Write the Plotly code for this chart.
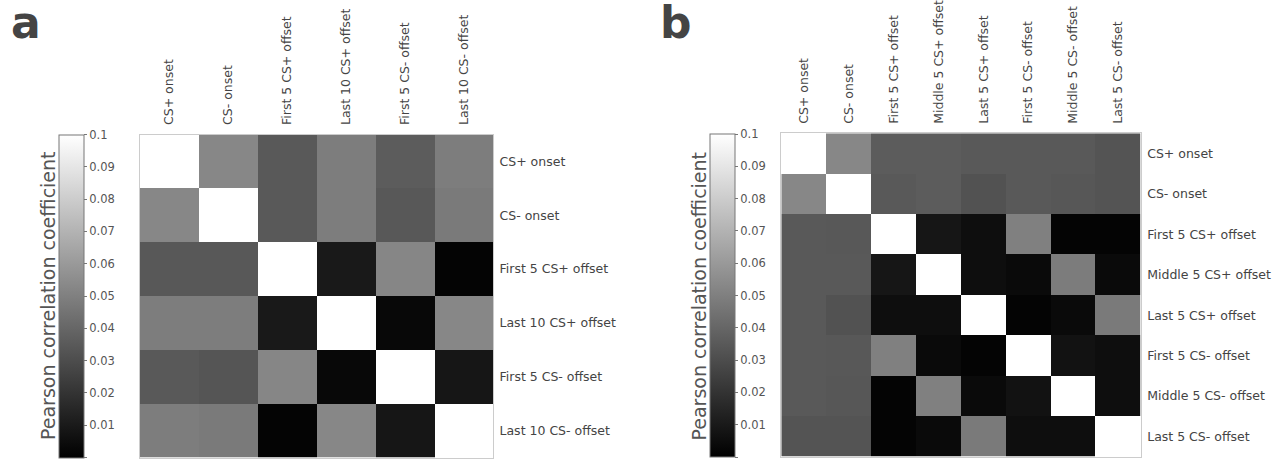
import plotly.graph_objects as go

# ---------------- data ----------------
labels_a = ["CS+ onset", "CS- onset", "First 5 CS+ offset", "Last 10 CS+ offset",
            "First 5 CS- offset", "Last 10 CS- offset"]
z_a = [
    [0.100, 0.053, 0.035, 0.049, 0.036, 0.049],
    [0.053, 0.100, 0.035, 0.049, 0.0345, 0.048],
    [0.0345, 0.0345, 0.100, 0.010, 0.0525, 0.0015],
    [0.049, 0.049, 0.010, 0.100, 0.003, 0.053],
    [0.035, 0.0335, 0.0525, 0.003, 0.100, 0.0087],
    [0.049, 0.048, 0.0015, 0.053, 0.0087, 0.100],
]

labels_b = ["CS+ onset", "CS- onset", "First 5 CS+ offset", "Middle 5 CS+ offset",
            "Last 5 CS+ offset", "First 5 CS- offset", "Middle 5 CS- offset",
            "Last 5 CS- offset"]
z_b = [
    [0.100, 0.053, 0.036, 0.036, 0.035, 0.035, 0.035, 0.033],
    [0.053, 0.100, 0.035, 0.036, 0.032, 0.035, 0.034, 0.033],
    [0.035, 0.0345, 0.100, 0.0087, 0.0055, 0.050, 0.0016, 0.0016],
    [0.035, 0.035, 0.0087, 0.100, 0.0055, 0.004, 0.0487, 0.004],
    [0.035, 0.032, 0.0055, 0.0055, 0.100, 0.0016, 0.004, 0.048],
    [0.035, 0.0345, 0.050, 0.004, 0.0016, 0.100, 0.007, 0.0055],
    [0.035, 0.034, 0.0016, 0.050, 0.004, 0.007, 0.100, 0.0055],
    [0.033, 0.033, 0.0016, 0.004, 0.048, 0.0055, 0.0055, 0.100],
]

cbar_ticks = [0, 0.01, 0.02, 0.03, 0.04, 0.05, 0.06, 0.07, 0.08, 0.09, 0.1]
cbar_ticktext = ["0", "0.01", "0.02", "0.03", "0.04", "0.05", "0.06", "0.07", "0.08", "0.09", "0.1"]
cbar_title = "Pearson correlation coefficient"

# ---------------- layout constants ----------------
W, H = 1277, 461
FONT = "DejaVu Sans"
gray_scale = [[0, "#000000"], [1, "#ffffff"]]


def px_x(p):
    return p / W


def px_y(p):
    return 1 - p / H


def cbar(x_left, top, bottom):
    return dict(
        x=px_x(x_left), xanchor="left", xpad=0,
        y=px_y(bottom), yanchor="bottom", ypad=0,
        len=(bottom - top) / H, lenmode="fraction",
        thickness=25, thicknessmode="pixels",
        outlinewidth=1, outlinecolor="#777777",
        tickmode="array", tickvals=cbar_ticks, ticktext=cbar_ticktext,
        ticks="outside", ticklen=3, tickcolor="#777777",
        tickfont=dict(family=FONT, size=11.5, color="#555555"),
    )


fig = go.Figure()

fig.add_trace(go.Heatmap(
    z=z_a, x=labels_a, y=labels_a, xaxis="x", yaxis="y",
    colorscale=gray_scale, zmin=0, zmax=0.1,
    colorbar=cbar(59, 134.5, 457.5), hoverinfo="skip",
))
fig.add_trace(go.Heatmap(
    z=z_b, x=labels_b, y=labels_b, xaxis="x2", yaxis="y2",
    colorscale=gray_scale, zmin=0, zmax=0.1,
    colorbar=cbar(710.5, 134.0, 457.0), hoverinfo="skip",
))

tickfont = dict(family=FONT, size=12.5, color="#444444")

def xax(domain, anchor):
    return dict(domain=domain, anchor=anchor, side="top", tickangle=-90,
                tickfont=tickfont, showgrid=False, zeroline=False, ticks="",
                ticklabelstandoff=6, showline=True, linecolor="#cccccc",
                mirror=True, linewidth=1, fixedrange=True, automargin=False)

def yax(domain, anchor):
    return dict(domain=domain, anchor=anchor, side="right", autorange="reversed",
                tickfont=tickfont, showgrid=False, zeroline=False, ticks="",
                ticklabelstandoff=3, showline=True, linecolor="#cccccc",
                mirror=True, linewidth=1, fixedrange=True, automargin=False)

fig.update_layout(
    width=W, height=H,
    margin=dict(l=0, r=0, t=0, b=0, autoexpand=False),
    paper_bgcolor="white", plot_bgcolor="white",
    font=dict(family=FONT, color="#444444"),
    xaxis=xax([px_x(139.5), px_x(493)], "y"),
    yaxis=yax([px_y(457.5), px_y(134.5)], "x"),
    xaxis2=xax([px_x(781.3), px_x(1140.7)], "y2"),
    yaxis2=yax([px_y(456.7), px_y(133.3)], "x2"),
    annotations=[
        dict(text=cbar_title, x=px_x(48), y=px_y(296), xref="paper", yref="paper",
             textangle=-90, showarrow=False, xanchor="center", yanchor="middle",
             font=dict(family=FONT, size=19, color="#555555")),
        dict(text=cbar_title, x=px_x(698.5), y=px_y(296), xref="paper", yref="paper",
             textangle=-90, showarrow=False, xanchor="center", yanchor="middle",
             font=dict(family=FONT, size=19, color="#555555")),
        dict(text="<b>a</b>", x=px_x(25.5), y=px_y(22), xref="paper", yref="paper",
             showarrow=False, xanchor="center", yanchor="middle",
             font=dict(family=FONT, size=44, color="#444444")),
        dict(text="<b>b</b>", x=px_x(675.5), y=px_y(22), xref="paper", yref="paper",
             showarrow=False, xanchor="center", yanchor="middle",
             font=dict(family=FONT, size=44, color="#444444")),
    ],
)

fig.write_html("out.html", config={"displayModeBar": False},
               post_script="document.body.style.margin='0';")
